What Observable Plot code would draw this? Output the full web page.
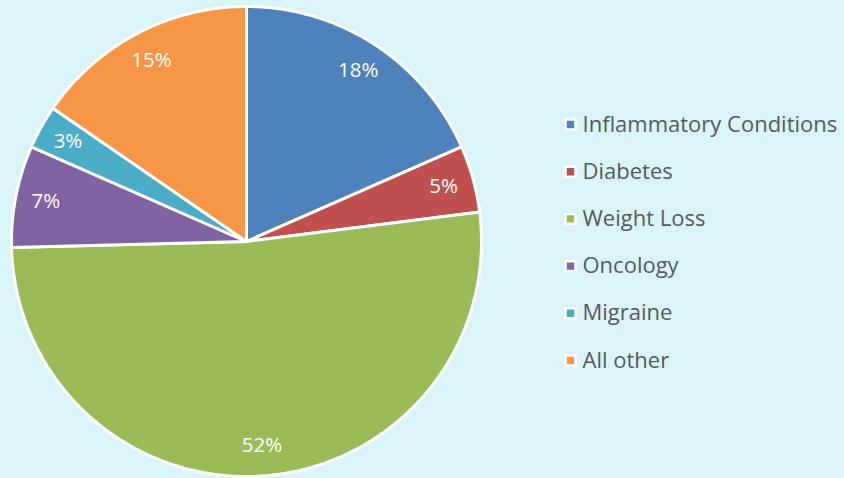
<!DOCTYPE html>
<html>
<head>
<meta charset="utf-8">
<script src="https://cdn.jsdelivr.net/npm/d3@7"></script>
<script src="https://cdn.jsdelivr.net/npm/@observablehq/plot@0.6"></script>
<style>
  html, body { margin: 0; padding: 0; background: #DAF5F9; }
  #chart { width: 844px; height: 478px; }
</style>
</head>
<body>
<div id="chart"></div>
<script>
// ---- data ----
const categories = ["Inflammatory Conditions", "Diabetes", "Weight Loss", "Oncology", "Migraine", "All other"];
const shares = [18.4, 4.6, 51.6, 7.0, 3.0, 15.4];
const percentLabels = ["18%", "5%", "52%", "7%", "3%", "15%"];
const palette = ["#4F81BD", "#C0504D", "#9BBB59", "#8064A2", "#4BACC6", "#F79646"];

// ---- layout ----
const W = 844, H = 478;
const cx = 246, cy = 241, R = 235;

const arcs = d3.pie().sort(null).value(d => d)(shares);

// polygon points for each slice (unit circle, y up, angle clockwise from top)
const slicePoints = [];
arcs.forEach((a, i) => {
  const name = categories[i];
  slicePoints.push({name, x: 0, y: 0});
  const n = Math.max(2, Math.ceil((a.endAngle - a.startAngle) / (Math.PI / 360)));
  for (let k = 0; k <= n; k++) {
    const t = a.startAngle + (a.endAngle - a.startAngle) * k / n;
    slicePoints.push({name, x: Math.sin(t), y: Math.cos(t)});
  }
});

const labelData = arcs.map((a, i) => {
  const m = (a.startAngle + a.endAngle) / 2;
  return {label: percentLabels[i], x: 0.87 * Math.sin(m), y: 0.87 * Math.cos(m)};
});

// legend in data units (inverse of the linear scales)
const toX = px => (px - cx) / R;
const toY = py => (cy - py) / R;
const legendData = categories.map((c, i) => ({
  name: c,
  x: toX(570),
  tx: toX(582),
  y: toY(124 + i * 47.2)
}));

const chart = Plot.plot({
  width: W,
  height: H,
  margin: 0,
  style: {background: "transparent", fontFamily: "'Open Sans', sans-serif"},
  x: {domain: [-1, 1], range: [cx - R, cx + R], axis: null},
  y: {domain: [-1, 1], range: [cy + R, cy - R], axis: null},
  color: {domain: categories, range: palette},
  marks: [
    Plot.line(slicePoints, {
      x: "x", y: "y", z: "name", fill: "name",
      stroke: "white", strokeWidth: 3, strokeLinejoin: "round",
      curve: "linear-closed"
    }),
    Plot.text(labelData, {
      x: "x", y: "y", text: "label",
      fill: "white", fontSize: 20.5
    }),
    Plot.dot(legendData, {
      x: "x", y: "y", fill: "name", symbol: "square", r: 5.6,
      stroke: "white", strokeWidth: 2.5
    }),
    Plot.text(legendData, {
      x: "tx", y: "y", text: "name", textAnchor: "start",
      fill: "#595959", fontSize: 22
    })
  ]
});
document.getElementById("chart").appendChild(chart);
</script>
</body>
</html>
